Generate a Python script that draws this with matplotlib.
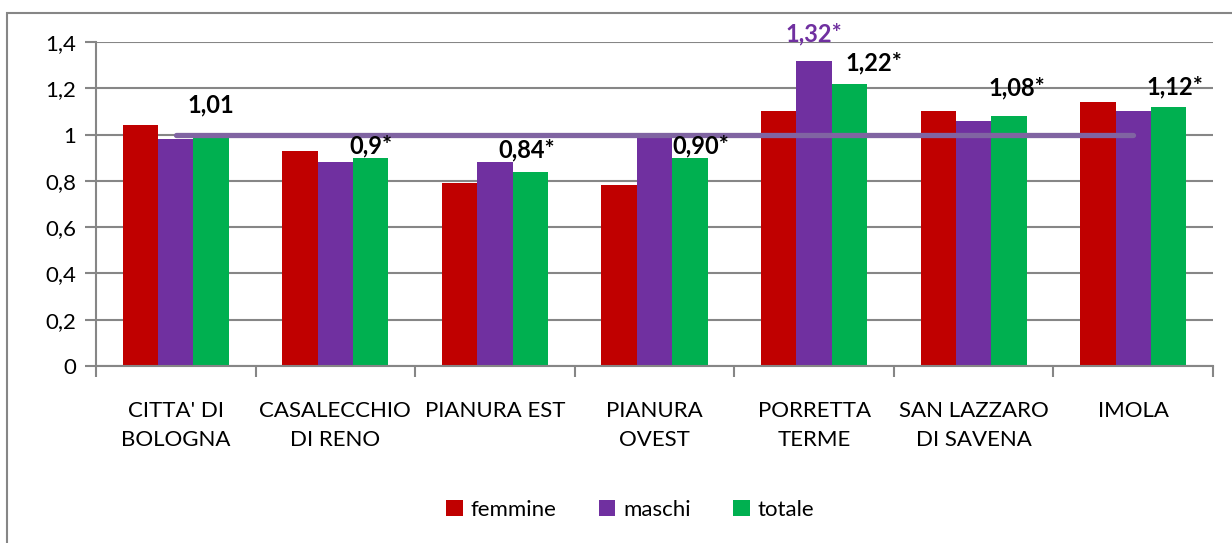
import matplotlib.pyplot as plt
from matplotlib.patches import Rectangle
import numpy as np

plt.rcParams['font.family'] = ['Lato', 'DejaVu Sans']

categorie = ["CITTA' DI\nBOLOGNA", "CASALECCHIO\nDI RENO", "PIANURA EST",
             "PIANURA\nOVEST", "PORRETTA\nTERME", "SAN LAZZARO\nDI SAVENA", "IMOLA"]
femmine = [1.04, 0.93, 0.79, 0.78, 1.10, 1.10, 1.14]
maschi = [0.98, 0.88, 0.88, 1.00, 1.32, 1.06, 1.10]
totale = [1.00, 0.90, 0.84, 0.90, 1.22, 1.08, 1.12]
riferimento = 1.0

# etichette: (gruppo, serie, testo)
etichette = [(0, 2, "1,01"), (1, 2, "0,9*"), (2, 2, "0,84*"), (3, 2, "0,90*"),
             (4, 1, "1,32*"), (4, 2, "1,22*"), (5, 2, "1,08*"), (6, 2, "1,12*")]
# spostamento in pixel del centro del testo rispetto alla cima della barra
spost = [(0, 30), (0, 12), (-4, 22), (11, 12), (0, 27), (24, 21), (8, 28), (6, 20)]

colori = ['#C00000', '#7030A0', '#00B050']
nomi = ['femmine', 'maschi', 'totale']
serie = [femmine, maschi, totale]

fig = plt.figure(figsize=(12.32, 5.43), dpi=100, facecolor='white')
fig.patches.append(Rectangle((7 / 1232, -0.1), 1.2, 1.1 - 13 / 543, transform=fig.transFigure,
                             fill=False, edgecolor='#868686', linewidth=1.5))
ax = fig.add_axes([96 / 1232, 1 - 366 / 543, (1213 - 96) / 1232, (366 - 42) / 543])

x = np.arange(len(categorie))
w = 0.222
for k in range(3):
    ax.bar(x + (k - 1) * w, serie[k], width=w, color=colori[k], label=nomi[k], zorder=2)

ax.plot([x[0], x[-1]], [riferimento, riferimento], color='#8064A2', linewidth=3.8,
        solid_capstyle='round', zorder=3)

for (g, s, t), (dx, dy) in zip(etichette, spost):
    col = '#7030A0' if s == 1 else 'black'
    ax.annotate(t, (x[g] + (s - 1) * w, serie[s][g]), xytext=(dx, dy), textcoords='offset pixels',
                ha='center', va='center', fontsize=17, fontweight='bold', color=col, zorder=4)

ax.set_xlim(-0.5, len(categorie) - 0.5)
ax.set_ylim(0, 1.4)
ax.set_yticks(np.arange(0, 1.41, 0.2))
ax.set_yticklabels(['0', '0,2', '0,4', '0,6', '0,8', '1', '1,2', '1,4'], fontsize=16)
ax.yaxis.grid(True, color='#868686', linewidth=1.5, zorder=0)
ax.set_axisbelow(True)

ax.set_xticks(np.arange(-0.5, len(categorie), 1.0))
ax.set_xticklabels([])
ax.set_xticks(x, minor=True)
ax.set_xticklabels(categorie, minor=True, fontsize=16, linespacing=1.6)
ax.tick_params(axis='x', which='minor', length=0, pad=25)
ax.tick_params(axis='x', which='major', length=8, width=1.5, color='#868686', direction='out')
ax.tick_params(axis='y', length=8, width=1.5, color='#868686', pad=6)

for sp in ['top', 'right']:
    ax.spines[sp].set_visible(False)
for sp in ['left', 'bottom']:
    ax.spines[sp].set_color('#868686')
    ax.spines[sp].set_linewidth(1.5)

fig.legend(loc='center', bbox_to_anchor=(630 / 1232, 1 - 510 / 543), ncol=3, frameon=False,
           fontsize=16, handlelength=0.75, handleheight=0.75, handletextpad=0.35, columnspacing=1.9)

fig.savefig('out.png', dpi=100)
